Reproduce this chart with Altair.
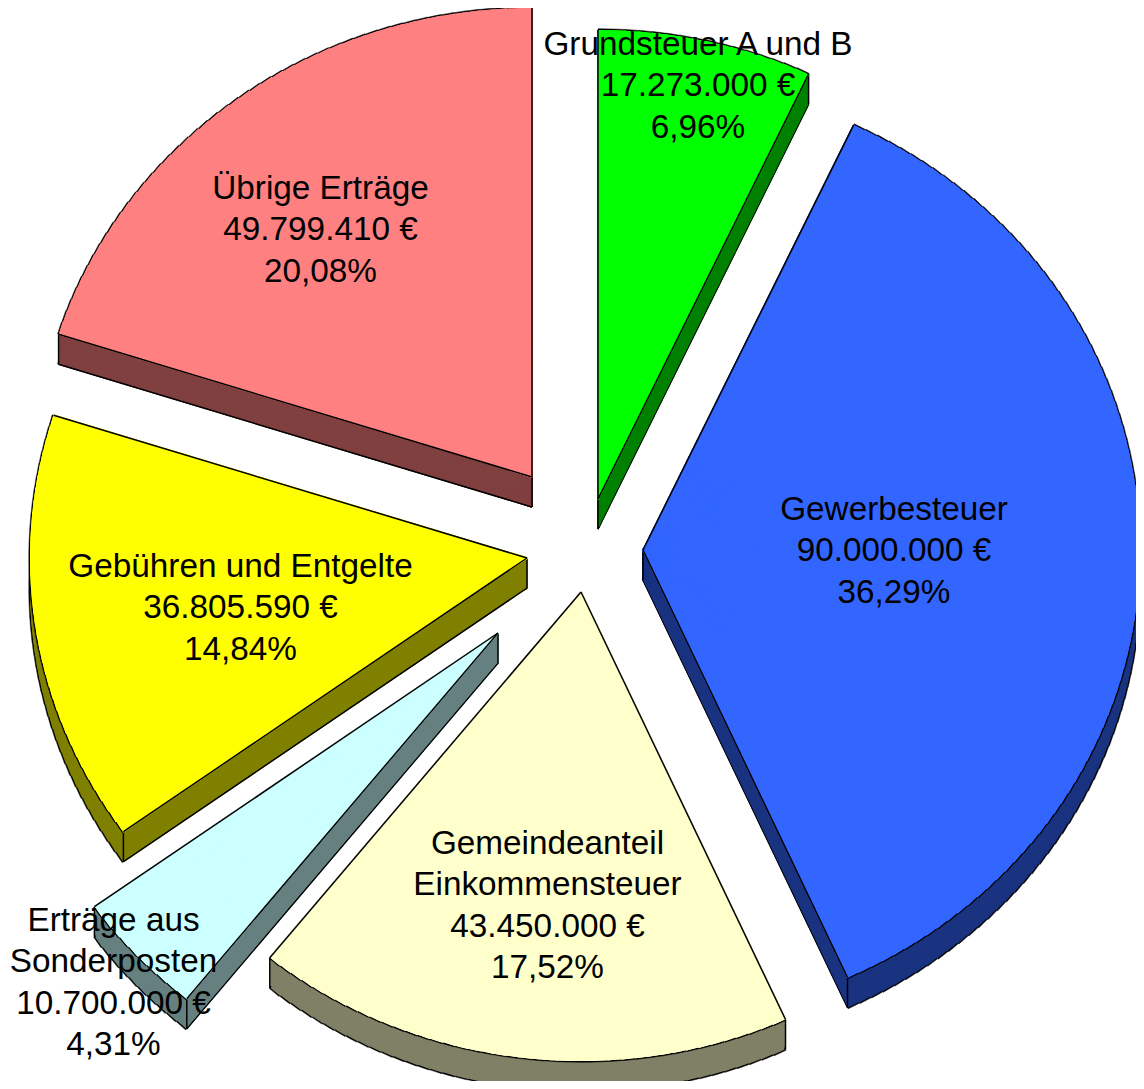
import math
import altair as alt
import pandas as pd

# Values
names = ["Grundsteuer A und B", "Gewerbesteuer", "Gemeindeanteil Einkommensteuer",
         "Erträge aus Sonderposten", "Gebühren und Entgelte", "Übrige Erträge"]
values = [17273000, 90000000, 43450000, 10700000, 36805590, 49799410]
labels = [
    "Grundsteuer A und B\n17.273.000 €\n6,96%",
    "Gewerbesteuer\n90.000.000 €\n36,29%",
    "Gemeindeanteil\nEinkommensteuer\n43.450.000 €\n17,52%",
    "Erträge aus\nSonderposten\n10.700.000 €\n4,31%",
    "Gebühren und Entgelte\n36.805.590 €\n14,84%",
    "Übrige Erträge\n49.799.410 €\n20,08%",
]

# Styling and layout of the exploded, tilted slices (page pixels)
top_colors = ["#00ff00", "#3366ff", "#ffffcc", "#ccffff", "#ffff00", "#ff8080"]
side_colors = ["#008000", "#1a3380", "#808066", "#668080", "#808000", "#804040"]
apex_x = [598, 643, 581, 498, 527, 532]
apex_y = [499, 550, 592, 633, 558, 477]
label_x = [698, 894, 547.5, 113.5, 240.5, 320.5]
label_y = [45, 510, 844, 921, 567, 189]
MARGIN_X = 8
MARGIN_Y = 8
DEPTH = 30
SEMI_X = 497   # tilted pie: horizontal semi-axis
SEMI_Y = 469   # tilted pie: vertical semi-axis
STEP_DEG = 1.5
OUTLINE = 1.2
INSET = 0.7

total = sum(values)
cum = [sum(values[:i]) for i in range(len(values) + 1)]


def tilted(angle):
    """Screen angle and radius of a pie angle on the tilted pie."""
    px, py = SEMI_X * math.sin(angle), SEMI_Y * math.cos(angle)
    theta = math.atan2(px, py)
    if theta < 0 or (theta == 0 and angle > math.pi):
        theta += 2 * math.pi
    return theta, math.hypot(px, py), px, py


wedges, straight, verticals = [], [], []
for i in range(len(values)):
    a0 = 2 * math.pi * cum[i] / total
    a1 = 2 * math.pi * cum[i + 1] / total
    cx, cy = apex_x[i] - MARGIN_X, apex_y[i] - MARGIN_Y
    n = max(2, int(math.degrees(a1 - a0) / STEP_DEG))
    for k in range(n):
        t0, r0, _, _ = tilted(a0 + (a1 - a0) * k / n)
        t1, r1, _, _ = tilted(a0 + (a1 - a0) * (k + 1) / n)
        if t1 <= t0:
            t1 = 2 * math.pi if k == n - 1 else t1 + 2 * math.pi
        wedges.append({"slice": i, "cx": cx, "cy": cy, "t0": t0, "t1": t1, "r": (r0 + r1) / 2,
                       "top": top_colors[i], "side": side_colors[i]})
    verticals.append({"x": cx, "y": cy, "y2": cy + DEPTH})
    for a in (a0, a1):
        _, _, px, py = tilted(a)
        ex, ey = cx + px, cy - py
        verticals.append({"x": ex, "y": ey, "y2": ey + DEPTH})
        straight.append({"x": cx, "x2": ex, "y": cy, "y2": ey, "level": "top"})
        straight.append({"x": cx, "x2": ex, "y": cy + DEPTH, "y2": ey + DEPTH, "level": "bottom"})

w = pd.DataFrame(wedges)
w["rOut"] = w["r"] + OUTLINE
w["rIn"] = w["r"] - INSET
w["bottom"] = w["cy"] + DEPTH
sides = pd.concat([w.assign(sy=w["cy"] + d) for d in range(0, DEPTH, 2)], ignore_index=True)
edges = pd.DataFrame(straight)
vert = pd.DataFrame(verticals)
text = pd.DataFrame({
    "label": labels,
    "lx": [v - MARGIN_X for v in label_x],
    "ly": [v - MARGIN_Y for v in label_y],
})


def arc(data, ycol, rcol, color=None):
    enc = dict(
        x=alt.X("cx:Q", scale=None, axis=None),
        y=alt.Y(f"{ycol}:Q", scale=None, axis=None),
        theta=alt.Theta("t0:Q", stack=None, scale=None),
        theta2=alt.Theta2("t1:Q"),
        radius=alt.Radius(f"{rcol}:Q", scale=None),
    )
    if color:
        enc["fill"] = alt.Fill(f"{color}:N", scale=None, legend=None)
        enc["stroke"] = alt.Stroke(f"{color}:N", scale=None, legend=None)
        return alt.Chart(data).mark_arc(strokeWidth=1.4).encode(**enc)
    return alt.Chart(data).mark_arc(fill="black", stroke="black", strokeWidth=0.5).encode(**enc)


def edge_rules(level):
    return alt.Chart(edges[edges["level"] == level]).mark_rule(color="black", strokeWidth=1.5).encode(
        x=alt.X("x:Q", scale=None, axis=None),
        x2="x2:Q",
        y=alt.Y("y:Q", scale=None, axis=None),
        y2="y2:Q",
    )


vertical_rules = alt.Chart(vert).mark_rule(color="black", strokeWidth=1.5).encode(
    x=alt.X("x:Q", scale=None, axis=None),
    y=alt.Y("y:Q", scale=None, axis=None),
    y2="y2:Q",
)
text_layer = alt.Chart(text).mark_text(
    font="Liberation Sans", fontSize=33.3, lineBreak="\n", lineHeight=41.4,
    align="center", baseline="middle", color="black",
).encode(
    x=alt.X("lx:Q", scale=None, axis=None),
    y=alt.Y("ly:Q", scale=None, axis=None),
    text="label:N",
)

chart = alt.layer(
    arc(w, "bottom", "rOut"),
    arc(w, "bottom", "rIn", "side"),
    edge_rules("bottom"),
    arc(sides, "sy", "rIn", "side"),
    vertical_rules,
    arc(w, "cy", "rOut"),
    arc(w, "cy", "rIn", "top"),
    arc(w, "cy", "rIn", "top"),
    edge_rules("top"),
    text_layer,
).properties(
    width=1128, height=1073, padding=0, autosize=alt.AutoSizeParams(type="none"),
).configure_view(stroke=None)

chart.save("out.html", embed_options={"renderer": "svg", "actions": False})
